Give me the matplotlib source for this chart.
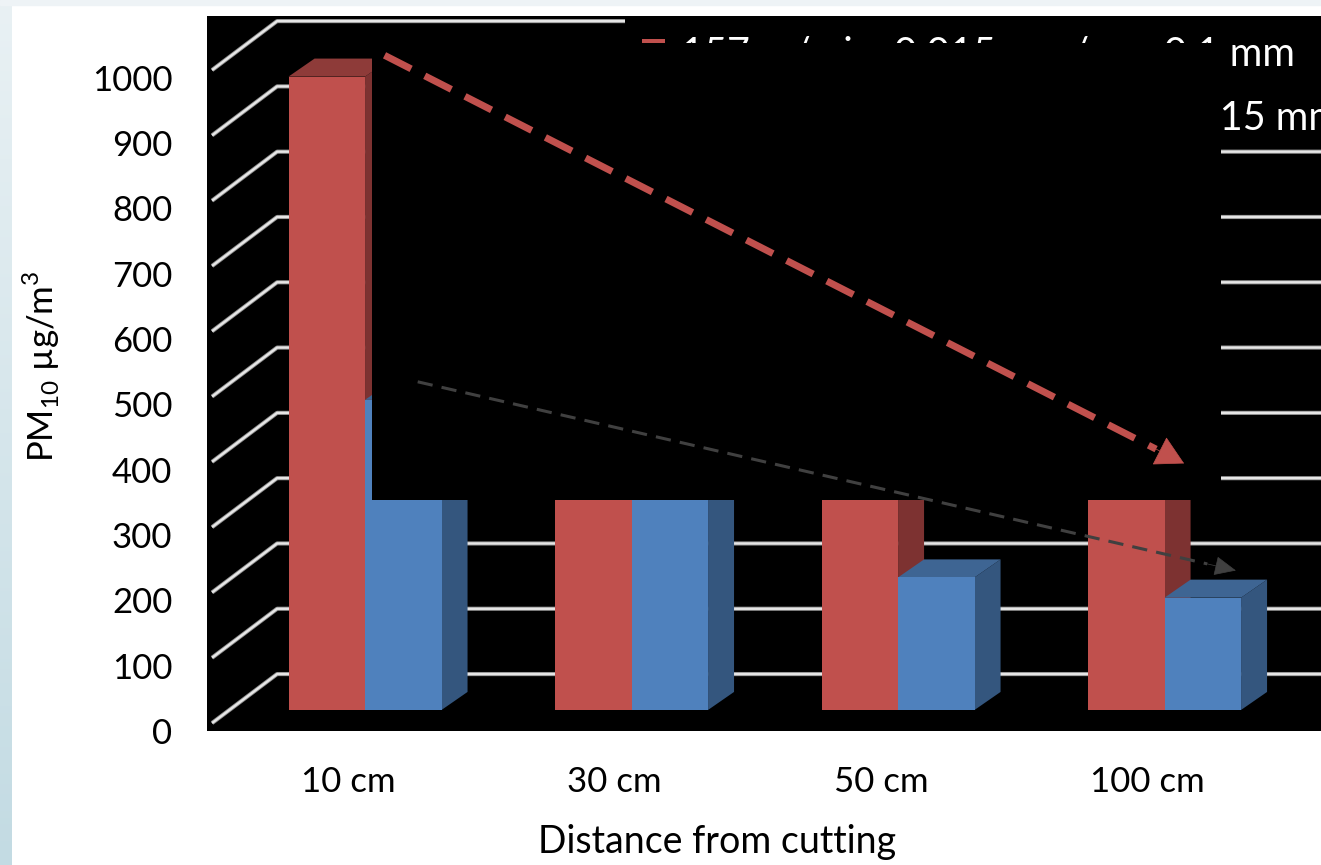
import matplotlib
matplotlib.use("Agg")
import numpy as np
import matplotlib.pyplot as plt
import matplotlib.patheffects as pe
from matplotlib.patches import Polygon, Rectangle, Patch

# PM10 concentration at each distance from the cutting zone
distances = ["10 cm", "30 cm", "50 cm", "100 cm"]
pm10_depth_01 = [970, 520, 450, 350]
pm10_depth_015 = [475, 420, 203, 172]
series_labels = ["157 m/min, 0.015 mm/rev, 0.1 mm",
                 "157 m/min, 0.015 mm/rev, 0.015 mm"]
y_ticks = np.arange(0, 1001, 100)

RED, RED_SIDE, RED_TOP = "#C0504D", "#7d3231", "#8e3b39"
BLUE, BLUE_SIDE, BLUE_TOP = "#4F81BD", "#34567e", "#3e6593"

plt.rcParams["font.family"] = ["Lato", "DejaVu Sans"]
plt.rcParams["mathtext.fontset"] = "custom"
plt.rcParams["mathtext.rm"] = "Lato"
FS = 25

# oblique "3D" geometry, in data units
BAR_W = 0.287
DEPTH_X, DEPTH_Y = 0.0976, 27.6
WALL_X0, WALL_X1 = -0.574, -0.330
FRONT_DY, BACK_DY = -20, 55
LABEL_DY = -32
XLIM = (-0.593, 3.587)
YLIM = (-32.2, 1062.8)

W, H = 1321, 865
fig = plt.figure(figsize=(W / 100, H / 100), dpi=100)

# light blue band on the left, pale strip at the top
strip = fig.add_axes([0, 0, 12 / W, 1])
grad = np.linspace(0, 1, 256).reshape(-1, 1)
strip.imshow(grad, aspect="auto", origin="lower",
             cmap=matplotlib.colors.LinearSegmentedColormap.from_list(
                 "band", ["#c3dbe3", "#e9f1f4"]))
strip.axis("off")
fig.patches.append(Rectangle((0, 1 - 5 / H), 1, 5 / H, transform=fig.transFigure,
                             color="#eef3f6", zorder=0))

ax = fig.add_axes([207 / W, (H - 731) / H, (W - 207) / W, (731 - 16) / H])
ax.set_facecolor("black")
ax.set_xlim(*XLIM)
ax.set_ylim(*YLIM)
for s in ax.spines.values():
    s.set_visible(False)

# wall gridlines: slanted on the side wall, flat on the back wall
grid_fx = [pe.Stroke(linewidth=3.0, foreground="#8f8f8f"), pe.Normal()]
for v in y_ticks:
    ax.plot([WALL_X0, WALL_X1, XLIM[1]], [v + FRONT_DY, v + BACK_DY, v + BACK_DY],
            color="#e6e6e6", lw=1.7, zorder=1, path_effects=grid_fx,
            solid_capstyle="butt")

x = np.arange(len(distances))


def draw_faces(left, vals, side_c, top_c):
    for xl, v in zip(left, vals):
        xr = xl + BAR_W
        ax.add_patch(Polygon([(xr, 0), (xr + DEPTH_X, DEPTH_Y),
                              (xr + DEPTH_X, v + DEPTH_Y), (xr, v)],
                             closed=True, color=side_c, lw=0, zorder=3))
        ax.add_patch(Polygon([(xl, v), (xl + DEPTH_X, v + DEPTH_Y),
                              (xr + DEPTH_X, v + DEPTH_Y), (xr, v)],
                             closed=True, color=top_c, lw=0, zorder=3))


draw_faces(x - BAR_W, pm10_depth_01, RED_SIDE, RED_TOP)
ax.bar(x - BAR_W / 2, pm10_depth_01, BAR_W, color=RED, zorder=3)
draw_faces(x, pm10_depth_015, BLUE_SIDE, BLUE_TOP)
ax.bar(x + BAR_W / 2, pm10_depth_015, BAR_W, color=BLUE, zorder=3)

ax.set_yticks(y_ticks + LABEL_DY)
ax.set_yticklabels([str(v) for v in y_ticks], fontsize=FS)
ax.set_xticks(x - 0.064)
ax.set_xticklabels(distances, fontsize=FS)
ax.tick_params(axis="y", length=0, pad=25)
ax.tick_params(axis="x", length=0, pad=25)

ax.set_ylabel(r"PM$_\mathregular{10}$ µg/m$^\mathregular{3}$", fontsize=FS)
ax.yaxis.set_label_coords(-0.13, 0.51)
ax.set_xlabel("Distance from cutting", fontsize=27)
ax.xaxis.set_label_coords(0.458, -0.13)

# legend sits on its own black backing in the top right corner
ax.add_patch(Rectangle((0.375, 0.82), 0.625, 0.18, transform=ax.transAxes,
                       color="black", lw=0, zorder=4))
handles = [Patch(facecolor=RED), Patch(facecolor=BLUE)]
leg = ax.legend(handles, series_labels, loc="upper left", bbox_to_anchor=(0.375, 0.997),
                fontsize=28.5, labelcolor="white", frameon=False,
                handlelength=0.58, handleheight=0.58, handletextpad=0.4,
                labelspacing=0.68, borderpad=0.44, borderaxespad=0)
leg.set_zorder(5)

# black panel laid over the upper middle of the plot
ax.add_patch(Rectangle((0.1481, 0.323), 0.9102 - 0.1481, 0.962 - 0.323,
                       transform=ax.transAxes, color="black", lw=0, zorder=6))


def trend_arrow(start, end, color, lw, dashes, scale, head_w):
    # dashed shaft plus a solid head over the last few percent of the run
    sx, sy = start
    ex, ey = end
    f = 0.035
    bx, by = ex - f * (ex - sx), ey - f * (ey - sy)
    ax.plot([sx, bx], [sy, by], color=color, lw=lw, linestyle=(0, dashes),
            solid_capstyle="butt", dash_capstyle="butt", zorder=8)
    ax.annotate("", xy=end, xytext=(bx, by),
                arrowprops=dict(arrowstyle=f"-|>,head_length=1.0,head_width={head_w}",
                                mutation_scale=scale, color=color, lw=0.5,
                                shrinkA=0, shrinkB=0),
                zorder=9)


# trend arrows from the 10 cm bars to the 100 cm bars
trend_arrow((x[0] + 0.75 * DEPTH_X, pm10_depth_01[0] + DEPTH_Y + 5),
            (x[3] + 0.75 * DEPTH_X, pm10_depth_01[3] + DEPTH_Y),
            RED, 5, (4.3, 2.2), 19, 0.55)
trend_arrow((x[0] + DEPTH_X + 0.1, pm10_depth_015[0] + DEPTH_Y),
            (x[3] + DEPTH_X + 0.17, pm10_depth_015[3] + DEPTH_Y + 14),
            "#404040", 2.2, (5, 3), 14, 0.45)

fig.savefig("out.png", dpi=100)
